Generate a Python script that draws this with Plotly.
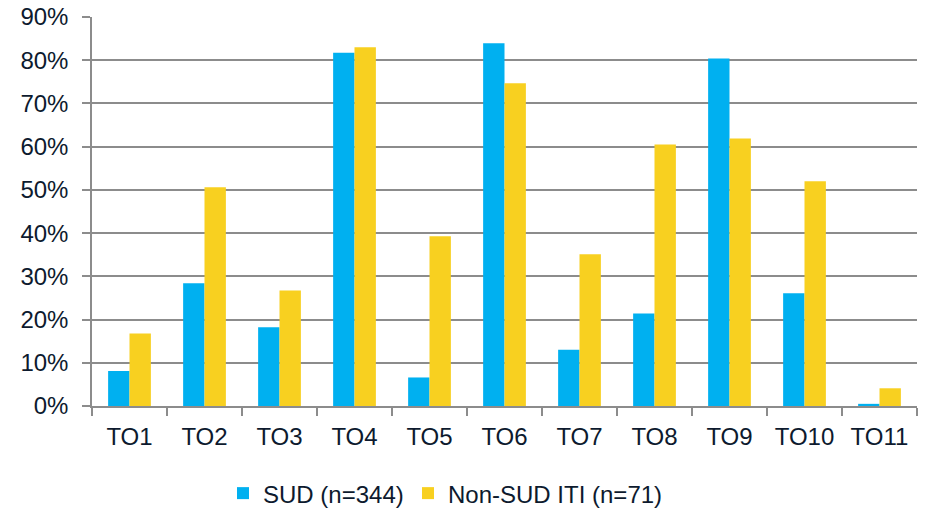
import plotly.graph_objects as go

categories = ["TO1", "TO2", "TO3", "TO4", "TO5", "TO6", "TO7", "TO8", "TO9", "TO10", "TO11"]
sud = [8.1, 28.4, 18.2, 81.7, 6.6, 83.9, 13.0, 21.4, 80.4, 26.1, 0.5]
non_sud = [16.8, 50.6, 26.7, 83.0, 39.3, 74.7, 35.1, 60.5, 61.9, 52.0, 4.1]
y_ticks = [0, 10, 20, 30, 40, 50, 60, 70, 80, 90]
y_tick_labels = [f"{v}%" for v in y_ticks]

text_color = "#0D1A2E"
grid_color = "#8C8C8C"

fig = go.Figure()
fig.add_trace(go.Bar(name="SUD (n=344)", x=categories, y=sud, marker_color="#00B0F0",
                     marker_line_width=0, legend="legend"))
fig.add_trace(go.Bar(name="Non-SUD ITI (n=71)", x=categories, y=non_sud, marker_color="#F8D020",
                     marker_line_width=0, legend="legend2"))

legend_common = dict(orientation="h", xanchor="left", xref="paper",
                     y=-0.225, yanchor="middle", font=dict(size=24, color=text_color),
                     itemwidth=30, bgcolor="rgba(0,0,0,0)")

fig.update_layout(
    width=926, height=510,
    margin=dict(l=92, r=9, t=17, b=104, autoexpand=False),
    paper_bgcolor="white", plot_bgcolor="white",
    barmode="group", bargap=0.43, bargroupgap=0,
    font=dict(family="Liberation Sans, Arial, sans-serif", size=24, color=text_color),
    showlegend=True,
    legend=dict(x=(223 - 92) / 825, **legend_common),
    legend2=dict(x=(408 - 92) / 825, **legend_common),
    xaxis=dict(showline=True, linecolor=grid_color, linewidth=1.5,
               ticks="outside", ticklen=8, tickcolor=grid_color, tickwidth=1.5,
               tickson="boundaries", tickfont=dict(size=24, color=text_color),
               ticklabelstandoff=8, showgrid=False, automargin=False),
    yaxis=dict(range=[0, 90], tickvals=y_ticks, ticktext=y_tick_labels,
               showline=True, linecolor=grid_color, linewidth=1.5,
               ticks="outside", ticklen=8, tickcolor=grid_color, tickwidth=1.5,
               ticklabelstandoff=9, automargin=False,
               showgrid=True, gridcolor=grid_color, gridwidth=1.5,
               tickfont=dict(size=24, color=text_color), zeroline=False),
)

fig.write_html("out.html")
